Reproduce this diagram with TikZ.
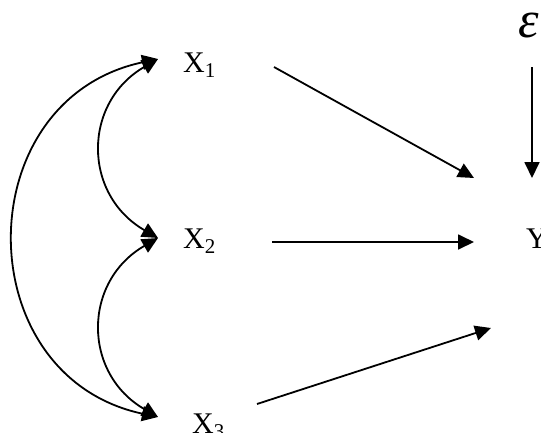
\documentclass[tikz,border=0pt]{standalone}
\usepackage{fontspec}
\setmainfont{Liberation Serif}
\usetikzlibrary{arrows.meta}
\begin{document}
\begin{tikzpicture}[x=1pt,y=-1pt,
  var/.style={font=\fontsize{30}{34}\selectfont, inner sep=0pt, anchor=base west},
  link/.style={line width=1.8pt, -{Triangle[length=16pt,width=15pt]}},
  corr/.style={line width=1.8pt, {Triangle[length=16pt,width=15pt]}-{Triangle[length=16pt,width=15pt]}}]
\useasboundingbox (0,0) rectangle (541,432);

\node[var] (x1) at (183,72) {X\textsubscript{1}};
\node[var] (x2) at (183,248) {X\textsubscript{2}};
\node[var] (x3) at (192,433) {X\textsubscript{3}};
\node[var] (y) at (526,248) {Y};
\node[var, font=\fontsize{52}{58}\selectfont\itshape] (eps) at (518,37) {ε};

\coordinate (x1out) at (274,67);
\coordinate (x2out) at (272,242);
\coordinate (x3out) at (257,404);
\coordinate (epsout) at (532,67);
\coordinate (y1in) at (474,178);
\coordinate (y2in) at (474,242);
\coordinate (y3in) at (491,328);
\coordinate (y4in) at (532,178);

\coordinate (c1) at (158,59);
\coordinate (c2) at (158,238);
\coordinate (c3) at (158,417);

\draw[link] (x1out) -- (y1in);
\draw[link] (x2out) -- (y2in);
\draw[link] (x3out) -- (y3in);
\draw[link] (epsout) -- (y4in);

\draw[corr] (c1) to[out=210,in=150,looseness=1.25] (c2);
\draw[corr] (c2) to[out=210,in=150,looseness=1.25] (c3);
\draw[corr] (c1) to[out=192,in=168,looseness=1.4] (c3);
\end{tikzpicture}
\end{document}
